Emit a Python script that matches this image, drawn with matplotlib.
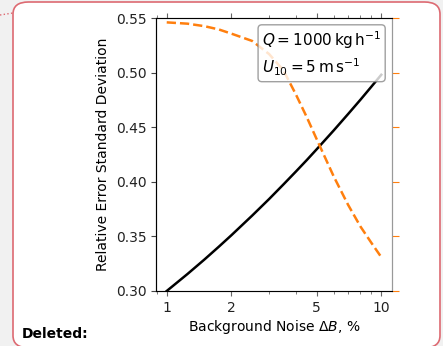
import numpy as np
import matplotlib.pyplot as plt
from matplotlib.patches import FancyBboxPatch
from matplotlib.lines import Line2D

# data
noise = [1, 1.25, 1.5, 1.75, 2, 2.5, 3, 3.5, 4, 4.5, 5, 6, 7, 8, 9, 10]
err_black = [0.300, 0.3156, 0.3289, 0.3406, 0.3510, 0.3690, 0.3842, 0.3976,
             0.4094, 0.4200, 0.4298, 0.4470, 0.4620, 0.4752, 0.4872, 0.498]
err_orange = [0.546, 0.5448, 0.5425, 0.5395, 0.5357, 0.529, 0.517, 0.502,
              0.480, 0.459, 0.439, 0.405, 0.379, 0.359, 0.344, 0.331]
yticks = [0.30, 0.35, 0.40, 0.45, 0.50, 0.55]

fig = plt.figure(figsize=(4.43, 3.46), dpi=100)
fig.patch.set_facecolor('#f1f1f1')

# page frame behind the chart
frame = FancyBboxPatch((13/443, -0.005), 427/443, 1 - 2/346 + 0.005,
                       boxstyle='round,pad=0,rounding_size=0.035',
                       transform=fig.transFigure, facecolor='white',
                       edgecolor='#dd6a72', linewidth=1.2, zorder=-10)
fig.patches.append(frame)
fig.lines.append(Line2D([0, 13/443], [1 - 15/346, 1 - 13/346], transform=fig.transFigure,
                        color='#dd6a72', linestyle=':', linewidth=1, zorder=-10))
fig.text(22/443, 1 - 338/346, 'Deleted:', fontsize=10, fontweight='bold', va='baseline')

ax = fig.add_axes([156/443, 1 - 291/346, 236/443, 273/346])
ax.patch.set_alpha(0)
ax.plot(noise, err_black, color='black', linewidth=1.8)
ax.plot(noise, err_orange, color='#ff7f0e', linestyle='--', linewidth=1.8)
ax.set_xscale('log')
ax.set_xlim(10**-0.05, 10**1.05)
ax.set_ylim(0.30, 0.55)
ax.set_yticks(yticks)
ax.set_xticks([1, 2, 5, 10])
ax.set_xticklabels(['1', '2', '5', '10'])
ax.tick_params(axis='both', labelsize=10, colors='#222222')
ax.tick_params(axis='x', which='both', top=True, color='#666666')
ax.tick_params(axis='y', color='#444444')
ax.set_xlabel(r'Background Noise $\Delta B$, %', fontsize=10, labelpad=2)
ax.set_ylabel('Relative Error Standard Deviation', fontsize=10)
ax.spines['left'].set_color('#444444')
for s in ['bottom', 'top', 'right']:
    ax.spines[s].set_color('#999999')

ax2 = ax.twinx()
ax2.set_ylim(0.30, 0.55)
ax2.set_yticks(yticks)
ax2.tick_params(axis='y', colors='#ff7f0e', labelright=False, length=5)
ax2.spines['right'].set_color('#999999')

ax.text(0.955, 0.96, '$Q = 1000\\,\\mathrm{kg\\,h^{-1}}$\n$U_{10} = 5\\,\\mathrm{m\\,s^{-1}}$',
        transform=ax.transAxes, ha='right', va='top', multialignment='left',
        fontsize=11, linespacing=1.35,
        bbox=dict(boxstyle='round,pad=0.25', facecolor='white', edgecolor='#888888', alpha=0.8),
        zorder=5)

fig.savefig('out.png', dpi=100)
